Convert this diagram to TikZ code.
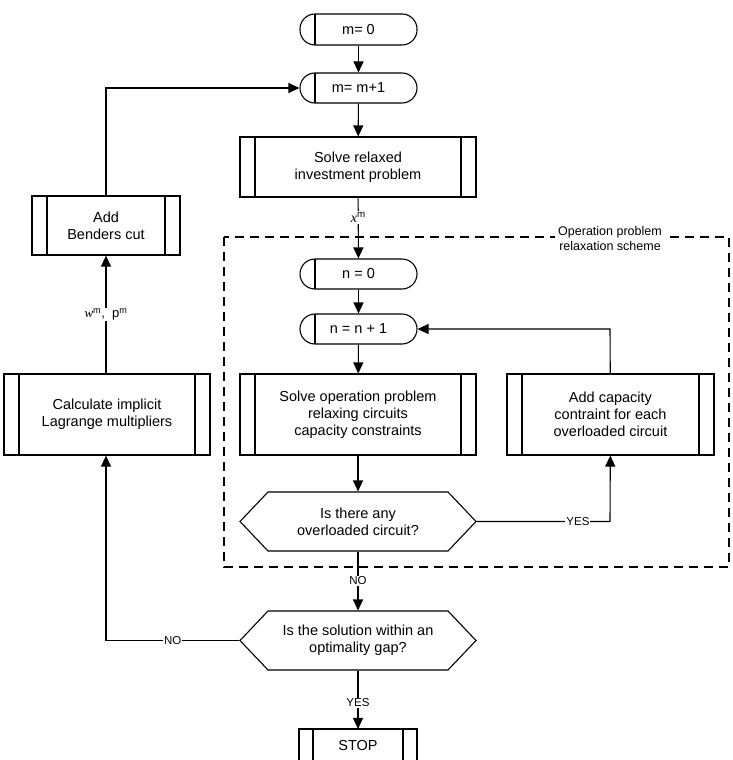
\documentclass[tikz,border=0pt]{standalone}
\usepackage{fontspec}
\setmainfont{Liberation Sans}
\newfontfamily\serifit{Liberation Serif}
\usetikzlibrary{arrows.meta}
\begin{document}
\begin{tikzpicture}[x=1pt,y=-1pt,line width=1.1pt,
  txt/.style={font=\fontsize{14.5}{17}\selectfont,align=center,inner sep=0pt},
  lab/.style={font=\fontsize{11.5}{13}\selectfont,fill=white,inner sep=1pt},
  arr/.style={-{Triangle[length=11pt,width=10pt]}}]
\useasboundingbox (0,0) rectangle (733,760);
\newcommand{\termbox}[5]{%
  \draw[rounded corners=15pt] (#2,#3) rectangle (#4,#5);
  \draw (#2+15,#3) -- (#2+15,#5);}
\newcommand{\procbox}[6]{%
  \draw (#2,#3) rectangle (#4,#5);
  \draw (#2+#6,#3) -- (#2+#6,#5) (#4-#6,#3) -- (#4-#6,#5);}
\newcommand{\hexbox}[4]{%
  \draw (#1,{(#2+#4)/2}) -- (#1+28,#2) -- (#3-28,#2) -- (#3,{(#2+#4)/2}) -- (#3-28,#4) -- (#1+28,#4) -- cycle;}
\draw[dashed,dash pattern=on 9pt off 6pt] (224,237) rectangle (729,567);
\node[lab,font=\fontsize{12.5}{15}\selectfont,align=center,inner sep=3pt] (opl) at (610,239) {Operation problem\\relaxation scheme};
\termbox{m0}{300}{14}{417}{45}
\node[txt,minimum width=117pt,minimum height=31pt] (m0) at (358.5,29.5) {m= 0};
\termbox{m1}{300}{73}{417}{103}
\node[txt,minimum width=117pt,minimum height=30pt] (m1) at (358.5,88) {m= m+1};
\procbox{inv}{240}{137}{476}{197}{15}
\node[txt,minimum width=236pt,minimum height=60pt] (inv) at (358,167) {Solve relaxed\\investment problem};
\termbox{n0}{300}{259}{417}{289}
\node[txt,minimum width=117pt,minimum height=30pt] (n0) at (358.5,274) {n = 0};
\termbox{n1}{300}{314}{417}{344}
\node[txt,minimum width=117pt,minimum height=30pt] (n1) at (358.5,329) {n = n + 1};
\procbox{op}{240}{374}{476}{455}{15}
\node[txt,minimum width=236pt,minimum height=81pt] (op) at (358,414.5) {Solve operation problem\\relaxing circuits\\capacity constraints};
\procbox{cap}{507}{374}{714}{455}{15}
\node[txt,minimum width=207pt,minimum height=81pt] (cap) at (610.5,414.5) {Add capacity\\contraint for each\\overloaded circuit};
\hexbox{240}{492}{476}{551}
\node[txt,minimum width=236pt,minimum height=59pt] (h1) at (358,521.5) {Is there any\\overloaded circuit?};
\hexbox{240}{611}{476}{670}
\node[txt,minimum width=236pt,minimum height=59pt] (h2) at (358,640.5) {Is the solution within an\\optimality gap?};
\procbox{stop}{299}{729}{417}{762}{14}
\node[txt,minimum width=118pt,minimum height=31pt] (stop) at (358,745) {STOP};
\procbox{ben}{32}{196}{180}{255}{15}
\node[txt,minimum width=148pt,minimum height=59pt] (ben) at (106,225.5) {Add\\Benders cut};
\procbox{calc}{4}{374}{210}{455}{15}
\node[txt,minimum width=206pt,minimum height=81pt] (calc) at (107,414.5) {Calculate implicit\\Lagrange multipliers};
\draw[arr] (m0) -- (m1);
\draw[arr] (m1) -- (inv);
\draw[arr] (inv) -- node[fill=white,inner sep=1pt,pos=0.33,font=\fontsize{14}{16}\selectfont]{{\serifit\itshape x}\textsuperscript{m}} (n0);
\draw[arr] (n0) -- (n1);
\draw[arr] (n1) -- (op);
\draw[arr] (op) -- (h1);
\draw[arr] (h1) -- node[lab,pos=0.5]{NO} (h2);
\draw[arr] (h2) -- node[lab,pos=0.55]{YES} (stop);
\coordinate (c1) at (610,521.5);
\draw[arr] (h1.east) -- node[lab,pos=0.76]{YES} (c1) -- (cap);
\coordinate (c2) at (610,329);
\draw[arr] (cap) -- (c2) -- (n1.east);
\coordinate (c3) at (106,640.5);
\draw[arr] (h2.west) -- node[lab,pos=0.5]{NO} (c3) -- (calc.south -| c3);
\draw[arr] (calc.north -| ben) -- node[fill=white,inner sep=1pt,font=\fontsize{13}{15}\selectfont]{{\serifit\itshape w}\textsuperscript{m},\ \ p\textsuperscript{m}} (ben);
\coordinate (c4) at (106,88);
\draw[arr] (ben) -- (c4) -- (m1.west);
\end{tikzpicture}
\end{document}
